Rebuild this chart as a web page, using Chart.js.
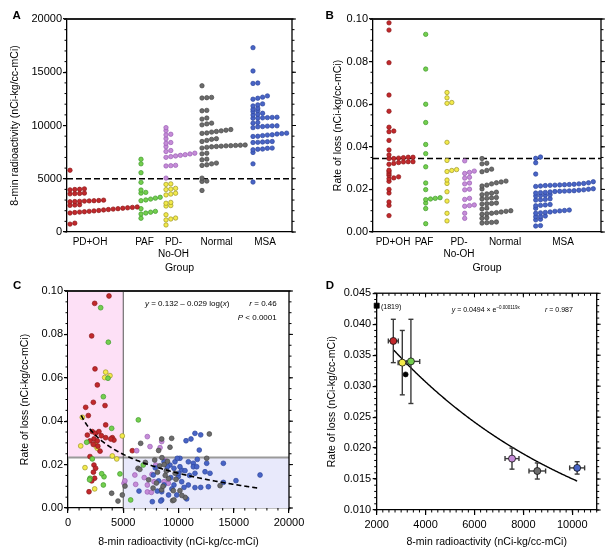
<!DOCTYPE html>
<html><head><meta charset="utf-8">
<script src="https://cdn.jsdelivr.net/npm/chart.js@4.4.1/dist/chart.umd.min.js"></script>
<style>
html,body{margin:0;padding:0;background:#fff;}
#wrap{position:relative;width:615px;height:556px;overflow:hidden;font-family:"Liberation Sans",Arial,Helvetica,sans-serif;color:#000;}
canvas{position:absolute;}
.lbl{position:absolute;font-weight:bold;font-size:11.5px;line-height:1;}
.ann{position:absolute;white-space:nowrap;line-height:1;}
</style></head><body>
<div id="wrap">
<canvas id="cA" width="305" height="278" style="left:0;top:0"></canvas>
<canvas id="cB" width="310" height="278" style="left:305px;top:0"></canvas>
<canvas id="cC" width="305" height="278" style="left:0;top:278px"></canvas>
<canvas id="cD" width="310" height="278" style="left:305px;top:278px"></canvas>
<div class="lbl" style="left:12.5px;top:10px">A</div>
<div class="lbl" style="left:325.5px;top:10px">B</div>
<div class="lbl" style="left:13px;top:280.3px">C</div>
<div class="lbl" style="left:325.7px;top:280.3px">D</div>
<div class="ann" style="left:145px;top:299.5px;font-size:8px"><i>y</i> = 0.132 – 0.029 log(<i>x</i>)</div>
<div class="ann" style="right:338.3px;top:299.5px;font-size:8px"><i>r</i> = 0.46</div>
<div class="ann" style="right:338.3px;top:313.9px;font-size:8px"><i>P</i> &lt; 0.0001</div>
<div class="ann" style="left:451.7px;top:305.9px;font-size:7px"><i>y</i> = 0.0494 × e<span style="font-size:4.5px;vertical-align:3px">–0.000119x</span></div>
<div class="ann" style="left:545px;top:305.9px;font-size:7px"><i>r</i> = 0.987</div>
<div class="ann" style="left:381px;top:302.6px;font-size:7px">(1819)</div>
</div>
<script>
// ================= DATA =================
const CAT_LABELS = [['PD+OH'], ['PAF'], ['PD-', 'No-OH'], ['Normal'], ['MSA']];

// Panel A: 8-min radioactivity by group
const A_PDOH = [5800, 4050, 4010, 3990, 3960, 3650, 3620, 3600, 3580, 2990, 2960, 2940, 2920, 2900, 2880, 2860, 2840, 2560, 2530, 2500, 2350, 2310, 2270, 2230, 2190, 2150, 2110, 2070, 2020, 1980, 1940, 1900, 1870, 1830, 1780, 830, 740];
const A_PAF = [6830, 6400, 5570, 4660, 3940, 3720, 3650, 3260, 3180, 3090, 3010, 2940, 2190, 1940, 1860, 1780, 1690, 1290];
const A_PDNOOH_Y = [4520, 4470, 4100, 4030, 3980, 3640, 3560, 3480, 2780, 2700, 2480, 2440, 1620, 1310, 1220, 1130, 660];
const A_PDNOOH_P = [9800, 9520, 9180, 9120, 8760, 8400, 8330, 8010, 7650, 7560, 7400, 7330, 7260, 7200, 7140, 7080, 7010, 6260, 6230, 6200, 5060];
const A_NORMAL = [13730, 12640, 12610, 12580, 11420, 11380, 10700, 10600, 10220, 10150, 10060, 9620, 9560, 9500, 9440, 9380, 9300, 9260, 8760, 8700, 8600, 8500, 8170, 8150, 8130, 8110, 8090, 8060, 8030, 8000, 7950, 7880, 7400, 7340, 6840, 6780, 6470, 6400, 6310, 6250, 5060, 4780, 4750, 3900];
const A_MSA = [17310, 15120, 13990, 13950, 12780, 12660, 12560, 12470, 12030, 11940, 11840, 11620, 11530, 11400, 11310, 11150, 11060, 10990, 10780, 10760, 10740, 10720, 10700, 10680, 10280, 10220, 9970, 9960, 9940, 9900, 9880, 9800, 9280, 9240, 9200, 9130, 9100, 9050, 8990, 8970, 8500, 8480, 8450, 8420, 8400, 7880, 7860, 7790, 7770, 7720, 7470, 6400, 4690];
const A_YTICKS = [0, 5000, 10000, 15000, 20000];
const A_CUTOFF = 5000;

// Panel B: rate of loss by group
const B_PDOH = [0.0982, 0.0948, 0.0795, 0.0643, 0.0567, 0.0492, 0.0474, 0.0471, 0.0430, 0.0385, 0.0362, 0.0351, 0.0351, 0.0349, 0.0347, 0.0345, 0.0345, 0.0330, 0.0330, 0.0329, 0.0326, 0.0322, 0.0318, 0.0290, 0.0283, 0.0274, 0.0266, 0.0259, 0.0254, 0.0250, 0.0238, 0.0200, 0.0183, 0.0141, 0.0125, 0.0077];
const B_PAF = [0.0928, 0.0765, 0.0600, 0.0514, 0.0411, 0.0368, 0.0306, 0.0230, 0.0199, 0.0161, 0.0158, 0.0155, 0.0152, 0.0136, 0.0110, 0.0039];
const B_PDNOOH_Y = [0.0655, 0.0630, 0.0608, 0.0604, 0.0421, 0.0336, 0.0293, 0.0289, 0.0284, 0.0244, 0.0228, 0.0189, 0.0145, 0.0088, 0.0052];
const B_PDNOOH_P = [0.0334, 0.0286, 0.0280, 0.0275, 0.0257, 0.0253, 0.0230, 0.0226, 0.0201, 0.0198, 0.0158, 0.0153, 0.0127, 0.0124, 0.0121, 0.0088, 0.0064];
const B_NORMAL = [0.0345, 0.0323, 0.0320, 0.0295, 0.0289, 0.0283, 0.0239, 0.0235, 0.0231, 0.0226, 0.0220, 0.0216, 0.0202, 0.0187, 0.0182, 0.0179, 0.0175, 0.0162, 0.0160, 0.0158, 0.0155, 0.0136, 0.0134, 0.0133, 0.0131, 0.0112, 0.0108, 0.0100, 0.0097, 0.0094, 0.0091, 0.0088, 0.0086, 0.0083, 0.0067, 0.0064, 0.0047, 0.0045, 0.0044, 0.0042];
const B_MSA = [0.0352, 0.0346, 0.0325, 0.0272, 0.0236, 0.0231, 0.0228, 0.0226, 0.0224, 0.0223, 0.0222, 0.0221, 0.0220, 0.0219, 0.0218, 0.0216, 0.0214, 0.0203, 0.0201, 0.0198, 0.0196, 0.0194, 0.0193, 0.0192, 0.0191, 0.0190, 0.0188, 0.0186, 0.0185, 0.0183, 0.0175, 0.0173, 0.0171, 0.0169, 0.0156, 0.0153, 0.0151, 0.0150, 0.0129, 0.0127, 0.0125, 0.0123, 0.0111, 0.0103, 0.0101, 0.0099, 0.0097, 0.0094, 0.0092, 0.0090, 0.0088, 0.0075, 0.0073, 0.0072, 0.0060, 0.0057, 0.0030, 0.0028];
const B_YTICKS = [0, 0.02, 0.04, 0.06, 0.08, 0.10];
const B_CUTOFF = 0.0345;

// Panel C: [8-min radioactivity, rate of loss] per patient
const C_PDOH = [[3710,0.0977],[2414,0.0943],[2142,0.0793],[2443,0.0641],[2655,0.0567],[2293,0.0487],[1600,0.0464],[3350,0.0472],[1840,0.0426],[3410,0.0383],[1750,0.0336],[2200,0.0352],[2500,0.0344],[2800,0.0352],[3020,0.0333],[2350,0.0318],[2650,0.0309],[1990,0.0309],[2290,0.0293],[3410,0.0324],[4010,0.0324],[4160,0.0313],[3870,0.0318],[2900,0.0262],[1990,0.0237],[2350,0.0198],[2500,0.0183],[2300,0.0165],[2410,0.0137],[2150,0.0125],[1900,0.0075],[5820,0.0264],[2700,0.0285]];
const C_PAF = [[2956,0.0923],[3650,0.0764],[3620,0.0598],[3200,0.0513],[3950,0.0367],[6365,0.0406],[1690,0.0303],[2200,0.0226],[6810,0.0198],[4700,0.0157],[3260,0.0144],[3050,0.0158],[1990,0.0137],[3200,0.0106],[5670,0.0037],[1950,0.0130]];
const C_PDNOOH_Y = [[1295,0.0418],[3410,0.0626],[3320,0.0601],[3800,0.0610],[1150,0.0286],[4915,0.0332],[2443,0.0294],[2655,0.0275],[4010,0.0240],[4410,0.0226],[1538,0.0186],[2414,0.0088],[2550,0.0285]];
const C_PDNOOH_P = [[7180,0.0329],[7420,0.0283],[8330,0.0278],[6215,0.0264],[8480,0.0306],[5070,0.0114],[6125,0.0109],[7180,0.0106],[7785,0.0121],[8690,0.0121],[7180,0.0074],[7540,0.0072],[7940,0.0198],[5150,0.0125],[6050,0.0152],[8780,0.0218],[9080,0.0114],[7600,0.0155],[6900,0.0140]];
const C_NORMAL = [[6575,0.0298],[8480,0.0318],[9380,0.0321],[9230,0.0280],[12790,0.0341],[12550,0.0229],[6335,0.0183],[6500,0.0178],[7845,0.0221],[8500,0.0232],[9000,0.0215],[8300,0.0194],[8900,0.0170],[9100,0.0135],[8000,0.0115],[8470,0.0084],[9530,0.0080],[9770,0.0132],[10130,0.0080],[9470,0.0034],[10600,0.0049],[13760,0.0103],[7700,0.0092],[3950,0.0068],[4915,0.0060],[5160,0.0101],[4525,0.0032],[9590,0.0037],[8800,0.0150],[8600,0.0100],[7300,0.0130],[8100,0.0165],[9700,0.0160],[7000,0.0210],[10300,0.0058],[8200,0.0265],[8700,0.0200]];
const C_MSA = [[11490,0.0344],[12010,0.0337],[10680,0.0310],[11130,0.0318],[11880,0.0267],[10130,0.0229],[9680,0.0213],[14060,0.0206],[17380,0.0152],[15200,0.0126],[14060,0.0118],[12700,0.0098],[12010,0.0095],[11490,0.0094],[10890,0.0106],[10740,0.0042],[9840,0.0060],[8480,0.0037],[8480,0.0075],[10290,0.0175],[10890,0.0213],[11340,0.0206],[11700,0.0224],[12550,0.0206],[12850,0.0160],[12400,0.0167],[11340,0.0190],[10130,0.0190],[10590,0.0172],[9230,0.0198],[8930,0.0175],[9980,0.0144],[11490,0.0160],[11650,0.0190],[10290,0.0121],[7720,0.0152],[8690,0.0213],[8990,0.0190],[9590,0.0183],[6425,0.0078],[7630,0.0029],[8390,0.0032],[9890,0.0229],[9590,0.0106],[8690,0.0106],[8080,0.0078],[9300,0.0140],[10500,0.0095],[8200,0.0125],[9100,0.0060],[7900,0.0185],[11000,0.0150],[10000,0.0160],[9400,0.0088]];
const C_XTICKS = [0, 5000, 10000, 15000, 20000];
const C_YTICKS = [0, 0.02, 0.04, 0.06, 0.08, 0.10];
const C_X_CUT = 5000;
const C_Y_CUT = 0.0233;
const C_FIT = {a: 0.132, b: 0.029, xFrom: 1200, xTo: 17300};   // y = a - b*log10(x)

// Panel D: group means (x, y) with SEM
const D_MEAN_X = [2680, 3047, 3400, 7535, 8570, 10200];        // PD+OH, PD-No-OH(low), PAF, PD-No-OH(high), Normal, MSA
const D_MEAN_Y = [0.0373, 0.0338, 0.0340, 0.0183, 0.0163, 0.0168];
const D_SEM_X = [204, 170, 360, 285, 340, 306];
const D_SEM_Y = [0.0035, 0.0052, 0.0068, 0.0017, 0.0013, 0.0010];
const D_EXTRA_X = [3183];
const D_EXTRA_Y = [0.0319];
const D_OUTLIER_X = [1819];
const D_OUTLIER_Y = [0.0430];
const D_XTICKS = [2000, 4000, 6000, 8000, 10000];
const D_YTICKS = [0.010, 0.015, 0.020, 0.025, 0.030, 0.035, 0.040, 0.045];
const D_FIT = {a: 0.0494, k: 0.000119, xFrom: 2700, xTo: 10200}; // y = a*exp(-k x)

// ================= STYLE / LAYOUT =================
const COL = {
  red:    {f: '#c2282c', b: '#8c1a1a'},
  green:  {f: '#74cf4e', b: '#3f9a2c'},
  yellow: {f: '#f3ea4a', b: '#9c962a'},
  purple: {f: '#c68cd8', b: '#9a5fb4'},
  grey:   {f: '#6c6c6c', b: '#474747'},
  blue:   {f: '#4864c6', b: '#2f489e'},
  black:  {f: '#000000', b: '#000000'}
};
const FONT = '"Liberation Sans", Arial, Helvetica, sans-serif';
Chart.defaults.font.family = FONT;
Chart.defaults.color = '#000';

const SWARM_DX = 4.8, ROW_GAP = 1.3, DOT_R = 2.2;
const A_PPU = 213 / 20000, B_PPU = 213 / 0.1;
// category positions in plot px (x axis of A and B runs in px from plot left)
const A_POS = {pdoh: 3, paf: 74, pdnooh: 99, normal: 135, msa: 186};
const A_LBL = [23, 77.5, 106.5, 149.7, 198];
const B_POS = {pdoh: 16, paf: 52.7, pdY: 74, pdP: 91.7, normal: 109, msa: 162.7};
const B_LBL = [20, 51, 86, 132, 190];

// column-scatter layout: values close together (chained within ROW_GAP px) share a row and are set side by side
function swarm(values, base, ppu) {
  const sorted = values.slice().sort((a, b) => a - b);
  let k = 0, prev = null;
  return sorted.map(v => {
    if (prev !== null && (v - prev) * ppu <= ROW_GAP) k++; else k = 0;
    prev = v;
    return {x: base + k * SWARM_DX, y: v};
  });
}
function pairs(arr) { return arr.map(p => ({x: p[0], y: p[1]})); }
function dots(data, c, r) {
  return {data, backgroundColor: c.f, borderColor: c.b, borderWidth: 0.7, pointRadius: r || DOT_R, pointHoverRadius: r || DOT_R, clip: false};
}
function seq(a, b, step) { const o = []; for (let i = 0; a + i * step <= b + step * 1e-6; i++) o.push(a + i * step); return o; }
function setTicks(list) { return s => { s.ticks = list.map(v => ({value: v})); }; }

function yScale(o) {
  return {
    type: 'linear', position: 'left', min: o.min, max: o.max,
    afterBuildTicks: setTicks(o.ticks),
    ticks: {callback: o.fmt, font: {size: 11}, padding: o.pad, color: '#000', autoSkip: false},
    grid: {display: true, drawOnChartArea: false, drawTicks: true, tickLength: 4, color: '#000', lineWidth: 1.2},
    border: {display: true, color: '#000', width: 1.3},
    title: {display: true, text: o.title, font: {size: 10.5}, color: '#000', padding: {top: o.tpad, bottom: 0}},
    afterFit: s => { s.width = o.width; s.paddingTop = 0; s.paddingBottom = 0; }
  };
}
function xScale(o) {
  return {
    type: 'linear', position: 'bottom', min: o.min, max: o.max,
    afterBuildTicks: setTicks(o.ticks),
    ticks: {callback: o.fmt, font: {size: o.fs}, padding: o.pad, color: '#000', autoSkip: false, maxRotation: 0, minRotation: 0},
    grid: {display: o.gridTicks, drawOnChartArea: false, drawTicks: o.gridTicks, tickLength: 5, color: '#000', lineWidth: 1.2},
    border: {display: true, color: '#000', width: 1.3},
    title: {display: true, text: o.title, font: {size: 10.5}, color: '#000', padding: {top: 0, bottom: o.tpad}},
    afterFit: s => { s.height = o.height; s.paddingLeft = 0; s.paddingRight = 0; }
  };
}
function baseOptions(padding, scales) {
  return {
    responsive: false, animation: false, events: [],
    layout: {padding},
    plugins: {legend: {display: false}, tooltip: {enabled: false}},
    scales
  };
}

function line(ctx, x1, y1, x2, y2) { ctx.beginPath(); ctx.moveTo(x1, y1); ctx.lineTo(x2, y2); ctx.stroke(); }

function framePlugin(cfg) {
  return {
    id: 'frame',
    afterDraw(chart) {
      const {ctx, chartArea: a} = chart;
      ctx.save();
      ctx.strokeStyle = '#222';
      ctx.lineWidth = cfg.topW; line(ctx, a.left - 3, a.top, a.right + 0.6, a.top);
      ctx.strokeStyle = '#000';
      ctx.lineWidth = cfg.rightW; line(ctx, a.right, a.top, a.right, a.bottom + 0.6);
      ctx.lineWidth = 1;
      cfg.ticks.forEach(t => {
        const s = chart.scales[t.axis];
        t.vals.forEach(v => {
          const p = s.getPixelForValue(v);
          if (t.axis === 'y') {
            const x0 = t.side === 'left' ? a.left : a.right;
            const dir = (t.side === 'left' ? -1 : 1) * (t.inward ? -1 : 1);
            line(ctx, x0, p, x0 + dir * t.len, p);
          } else {
            const y0 = t.side === 'bottom' ? a.bottom : a.top;
            const dir = (t.side === 'bottom' ? 1 : -1) * (t.inward ? -1 : 1);
            line(ctx, p, y0, p, y0 + dir * t.len);
          }
        });
      });
      ctx.restore();
    }
  };
}
function cutoffPlugin(value) {
  return {
    id: 'cutoff',
    beforeDatasetsDraw(chart) {
      const {ctx, chartArea: a, scales: {y}} = chart;
      const p = y.getPixelForValue(value);
      ctx.save();
      ctx.strokeStyle = '#000'; ctx.lineWidth = 1.5; ctx.setLineDash([6, 3]);
      line(ctx, a.left, p, a.right, p);
      ctx.restore();
    }
  };
}

// ================= PANEL A =================
new Chart(document.getElementById('cA'), {
  type: 'scatter',
  data: {datasets: [
    dots(swarm(A_PDOH, A_POS.pdoh, A_PPU), COL.red),
    dots(swarm(A_PAF, A_POS.paf, A_PPU), COL.green),
    dots(swarm(A_PDNOOH_Y, A_POS.pdnooh, A_PPU), COL.yellow),
    dots(swarm(A_PDNOOH_P, A_POS.pdnooh, A_PPU), COL.purple),
    dots(swarm(A_NORMAL, A_POS.normal, A_PPU), COL.grey),
    dots(swarm(A_MSA, A_POS.msa, A_PPU), COL.blue)
  ]},
  options: baseOptions({top: 19, right: 13, left: 0, bottom: 0}, {
    x: xScale({min: 0, max: 225, ticks: A_LBL, fmt: (v, i) => CAT_LABELS[i], fs: 10, pad: 4, gridTicks: false, title: 'Group', tpad: 3.7, height: 46}),
    y: yScale({min: 0, max: 20000, ticks: A_YTICKS, fmt: v => String(v), pad: 1, title: '8-min radioactivity (nCi-kg/cc-mCi)', tpad: 8.7, width: 67})
  }),
  plugins: [cutoffPlugin(A_CUTOFF), framePlugin({topW: 2, rightW: 1.3, ticks: [
    {axis: 'y', side: 'left', vals: seq(0, 20000, 1000), len: 2.5},
    {axis: 'y', side: 'right', vals: seq(0, 20000, 5000), len: 4},
    {axis: 'y', side: 'right', vals: seq(0, 20000, 1000), len: 2.5}
  ]})]
});

// ================= PANEL B =================
new Chart(document.getElementById('cB'), {
  type: 'scatter',
  data: {datasets: [
    dots(swarm(B_PDOH, B_POS.pdoh, B_PPU), COL.red),
    dots(swarm(B_PAF, B_POS.paf, B_PPU), COL.green),
    dots(swarm(B_PDNOOH_Y, B_POS.pdY, B_PPU), COL.yellow),
    dots(swarm(B_PDNOOH_P, B_POS.pdP, B_PPU), COL.purple),
    dots(swarm(B_NORMAL, B_POS.normal, B_PPU), COL.grey),
    dots(swarm(B_MSA, B_POS.msa, B_PPU), COL.blue)
  ]},
  options: baseOptions({top: 19, right: 14, left: 0, bottom: 0}, {
    x: xScale({min: 0, max: 228, ticks: B_LBL, fmt: (v, i) => CAT_LABELS[i], fs: 10, pad: 4, gridTicks: false, title: 'Group', tpad: 3.7, height: 46}),
    y: yScale({min: 0, max: 0.1, ticks: B_YTICKS, fmt: v => v.toFixed(2), pad: 1, title: 'Rate of loss (nCi-kg/cc-mCi)', tpad: 26.7, width: 68})
  }),
  plugins: [cutoffPlugin(B_CUTOFF), framePlugin({topW: 2, rightW: 1.3, ticks: [
    {axis: 'y', side: 'left', vals: seq(0, 0.1, 0.005), len: 2.5},
    {axis: 'y', side: 'right', vals: seq(0, 0.1, 0.02), len: 4},
    {axis: 'y', side: 'right', vals: seq(0, 0.1, 0.005), len: 2.5}
  ]})]
});

// ================= PANEL C =================
const cRegions = {
  id: 'cRegions',
  beforeDatasetsDraw(chart) {
    const {ctx, chartArea: a, scales: {x, y}} = chart;
    const px = x.getPixelForValue(C_X_CUT), py = y.getPixelForValue(C_Y_CUT);
    ctx.save();
    ctx.fillStyle = '#fde0f6'; ctx.fillRect(a.left, a.top, px - a.left, py - a.top);
    ctx.fillStyle = '#e8e9fb'; ctx.fillRect(px, py, a.right - px, a.bottom - py);
    ctx.strokeStyle = '#9a9a9a'; ctx.lineWidth = 2; line(ctx, a.left, py, a.right, py);
    ctx.strokeStyle = '#555'; ctx.lineWidth = 1; line(ctx, px, a.top, px, a.bottom);
    ctx.restore();
  }
};
const cFit = {
  id: 'cFit',
  afterDatasetsDraw(chart) {
    const {ctx, scales: {x, y}} = chart;
    ctx.save();
    ctx.strokeStyle = '#000'; ctx.lineWidth = 1.6; ctx.setLineDash([5, 3]);
    ctx.beginPath();
    for (let v = C_FIT.xFrom; v <= C_FIT.xTo; v += 50) {
      const px = x.getPixelForValue(v), py = y.getPixelForValue(C_FIT.a - C_FIT.b * Math.log10(v));
      if (v === C_FIT.xFrom) ctx.moveTo(px, py); else ctx.lineTo(px, py);
    }
    ctx.stroke();
    ctx.restore();
  }
};
new Chart(document.getElementById('cC'), {
  type: 'scatter',
  data: {datasets: [
    dots(pairs(C_NORMAL), COL.grey, 2.4),
    dots(pairs(C_MSA), COL.blue, 2.4),
    dots(pairs(C_PDNOOH_P), COL.purple, 2.4),
    dots(pairs(C_PAF), COL.green, 2.4),
    dots(pairs(C_PDOH), COL.red, 2.4),
    dots(pairs(C_PDNOOH_Y), COL.yellow, 2.4)
  ]},
  options: baseOptions({top: 13, right: 16, left: 0, bottom: 0}, {
    x: xScale({min: 0, max: 20000, ticks: C_XTICKS, fmt: v => String(v), fs: 11, pad: 3, gridTicks: true, title: '8-min radioactivity (nCi-kg/cc-mCi)', tpad: 7.7, height: 48}),
    y: yScale({min: 0, max: 0.1, ticks: C_YTICKS, fmt: v => v.toFixed(2), pad: 1, title: 'Rate of loss (nCi-kg/cc-mCi)', tpad: 18.7, width: 68})
  }),
  plugins: [cRegions, cFit, framePlugin({topW: 2, rightW: 1.3, ticks: [
    {axis: 'y', side: 'left', vals: seq(0, 0.1, 0.005), len: 2.5},
    {axis: 'y', side: 'right', vals: seq(0, 0.1, 0.02), len: 4},
    {axis: 'y', side: 'right', vals: seq(0, 0.1, 0.005), len: 2.5},
    {axis: 'x', side: 'bottom', vals: seq(0, 20000, 1000), len: 2.5}
  ]})]
});

// ================= PANEL D =================
const dErr = {
  id: 'dErr',
  beforeDatasetsDraw(chart) {
    const {ctx, scales: {x, y}} = chart;
    ctx.save();
    ctx.strokeStyle = '#3a3a3a'; ctx.lineWidth = 1.4;
    D_MEAN_X.forEach((mx, i) => {
      const my = D_MEAN_Y[i];
      const cx = x.getPixelForValue(mx), cy = y.getPixelForValue(my);
      const y1 = y.getPixelForValue(my + D_SEM_Y[i]), y2 = y.getPixelForValue(my - D_SEM_Y[i]);
      const x1 = x.getPixelForValue(mx - D_SEM_X[i]), x2 = x.getPixelForValue(mx + D_SEM_X[i]);
      line(ctx, cx, y1, cx, y2);
      line(ctx, cx - 2.5, y1, cx + 2.5, y1);
      line(ctx, cx - 2.5, y2, cx + 2.5, y2);
      line(ctx, x1, cy, x2, cy);
      line(ctx, x1, cy - 2.5, x1, cy + 2.5);
      line(ctx, x2, cy - 2.5, x2, cy + 2.5);
    });
    ctx.restore();
  }
};
const dFit = {
  id: 'dFit',
  beforeDatasetsDraw(chart) {
    const {ctx, scales: {x, y}} = chart;
    ctx.save();
    ctx.strokeStyle = '#000'; ctx.lineWidth = 1.4;
    ctx.beginPath();
    for (let v = D_FIT.xFrom; v <= D_FIT.xTo; v += 25) {
      const px = x.getPixelForValue(v), py = y.getPixelForValue(D_FIT.a * Math.exp(-D_FIT.k * v));
      if (v === D_FIT.xFrom) ctx.moveTo(px, py); else ctx.lineTo(px, py);
    }
    ctx.stroke();
    ctx.restore();
  }
};
const D_XMIN = 2000, D_XMAX = 11000;
const dColors = [COL.red, COL.yellow, COL.green, COL.purple, COL.grey, COL.blue];
const dSets = D_MEAN_X.map((mx, i) => {
  const d = dots([{x: mx, y: D_MEAN_Y[i]}], dColors[i], 3.5);
  d.borderColor = '#111'; d.borderWidth = 0.8;
  return d;
});
dSets.push(dots(D_EXTRA_X.map((v, i) => ({x: v, y: D_EXTRA_Y[i]})), COL.black, 2.5));
const sq = dots(D_OUTLIER_X.map((v, i) => ({x: Math.max(v, D_XMIN), y: D_OUTLIER_Y[i]})), COL.black, 3.6);
sq.pointStyle = 'rect';
dSets.push(sq);
new Chart(document.getElementById('cD'), {
  type: 'scatter',
  data: {datasets: dSets},
  options: baseOptions({top: 15.3, right: 18.3, left: 0, bottom: 0}, {
    x: xScale({min: D_XMIN, max: D_XMAX, ticks: D_XTICKS, fmt: v => String(v), fs: 11, pad: 3, gridTicks: true, title: '8-min radioactivity (nCi-kg/cc-mCi)', tpad: 7.7, height: 46}),
    y: yScale({min: 0.010, max: 0.045, ticks: D_YTICKS, fmt: v => v.toFixed(3), pad: 1.5, title: 'Rate of loss (nCi-kg/cc-mCi)', tpad: 20.4, width: 71.7})
  }),
  plugins: [dFit, dErr, framePlugin({topW: 1.5, rightW: 1.3, ticks: [
    {axis: 'y', side: 'left', vals: seq(0.010, 0.045, 0.001), len: 2.5},
    {axis: 'y', side: 'right', vals: seq(0.010, 0.045, 0.005), len: 4},
    {axis: 'y', side: 'right', vals: seq(0.010, 0.045, 0.001), len: 2.5},
    {axis: 'x', side: 'bottom', vals: seq(2000, 11000, 250), len: 2.5},
    {axis: 'x', side: 'top', vals: seq(2000, 11000, 250), len: 2.5, inward: true},
    {axis: 'x', side: 'top', vals: seq(2000, 10000, 2000), len: 4, inward: true}
  ]})]
});
</script>
</body></html>
